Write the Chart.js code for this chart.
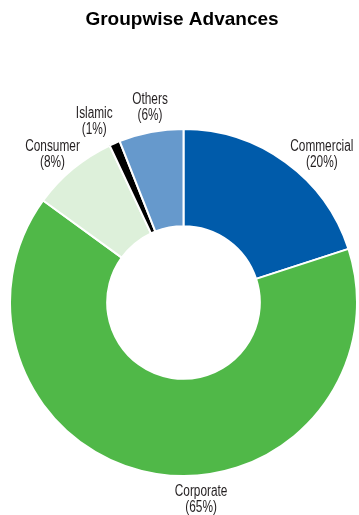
<!DOCTYPE html>
<html><head><meta charset="utf-8">
<script src="https://cdn.jsdelivr.net/npm/chart.js@4/dist/chart.umd.min.js"></script>
<style>html,body{margin:0;padding:0;background:#fff}#wrap{width:359px;height:515px;position:relative}</style>
</head><body><div id="wrap"><canvas id="c" width="359" height="515"></canvas></div>
<script>
const categories = ["Commercial", "Corporate", "Consumer", "Islamic", "Others"];
const values = [20, 65, 8, 1, 6];
const pctLabels = ["(20%)", "(65%)", "(8%)", "(1%)", "(6%)"];
const colors = ["#005BAA", "#50B848", "#DDF0DA", "#000000", "#6699CC"];
// label nudges (px) relative to a point just outside each slice's mid-angle
const labelDx = [24, 48, -7, -12, 3];
const labelDy = [9, 5, 2, -2.5, -4];

const LABEL_FONT = '16px "Liberation Sans", Arial, sans-serif';
const NARROW = 0.74;

const labelPlugin = {
  id: 'outerLabels',
  afterDraw(chart) {
    const ctx = chart.ctx;
    ctx.save();
    ctx.fillStyle = '#000';
    ctx.font = 'bold 19px "Liberation Sans", Arial, sans-serif';
    ctx.textAlign = 'center';
    ctx.textBaseline = 'middle';
    ctx.fillText('Groupwise Advances', 182, 20);
    const meta = chart.getDatasetMeta(0);
    ctx.font = LABEL_FONT;
    ctx.fillStyle = '#231F20';
    meta.data.forEach((arc, i) => {
      const p = arc.getProps(['x','y','startAngle','endAngle','outerRadius'], true);
      const mid = (p.startAngle + p.endAngle) / 2;
      const r = p.outerRadius + 21;
      const x = p.x + Math.cos(mid) * r + labelDx[i];
      const y = p.y + Math.sin(mid) * r + labelDy[i];
      ctx.save();
      ctx.translate(x, y);
      ctx.scale(NARROW, 1);
      ctx.fillText(categories[i], 0, -8);
      ctx.fillText(pctLabels[i], 0, 8);
      ctx.restore();
    });
    ctx.restore();
  }
};

new Chart(document.getElementById('c'), {
  type: 'doughnut',
  data: {
    labels: categories,
    datasets: [{
      data: values,
      backgroundColor: colors,
      borderColor: '#ffffff',
      borderWidth: 2
    }]
  },
  options: {
    responsive: false,
    animation: false,
    cutout: '44%',
    layout: { padding: { left: 9, right: 1, top: 128, bottom: 38 } },
    plugins: { legend: { display: false }, tooltip: { enabled: false }, title: { display: false } }
  },
  plugins: [labelPlugin]
});
</script></body></html>
